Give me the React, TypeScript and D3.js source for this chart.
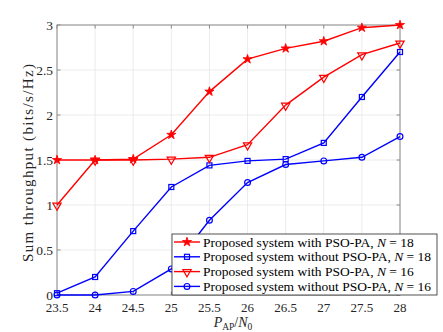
import React from 'react';
import * as d3 from 'd3';

const xValues = [23.5, 24, 24.5, 25, 25.5, 26, 26.5, 27, 27.5, 28];
const withPso18 = [1.5, 1.5, 1.51, 1.78, 2.26, 2.62, 2.74, 2.82, 2.97, 3.0];
const withoutPso18 = [0.02, 0.2, 0.71, 1.2, 1.44, 1.49, 1.51, 1.69, 2.2, 2.7];
const withPso16 = [1.0, 1.5, 1.5, 1.51, 1.53, 1.67, 2.11, 2.42, 2.67, 2.8];
const withoutPso16 = [0.0, 0.0, 0.04, 0.29, 0.83, 1.25, 1.45, 1.49, 1.53, 1.76];
const xTicks = [23.5, 24, 24.5, 25, 25.5, 26, 26.5, 27, 27.5, 28];
const yTicks = [0, 0.5, 1, 1.5, 2, 2.5, 3];
const legendLabels = [
  'Proposed system with PSO-PA, ',
  'Proposed system without PSO-PA, ',
  'Proposed system with PSO-PA, ',
  'Proposed system without PSO-PA, ',
];
const legendN = ['18', '18', '16', '16'];

const RED = '#ff0000';
const BLUE = '#0000ff';
const FONT = '"Liberation Serif", "DejaVu Serif", serif';

const series = [
  { values: withPso18, color: RED, marker: 'star' },
  { values: withoutPso18, color: BLUE, marker: 'square' },
  { values: withPso16, color: RED, marker: 'tri' },
  { values: withoutPso16, color: BLUE, marker: 'circle' },
];

const Marker = ({ type, x, y, color }: { type: string; x: number; y: number; color: string }) => {
  if (type === 'star') {
    const p = d3.symbol().type(d3.symbolStar).size(26)();
    return <path d={p || ''} transform={`translate(${x},${y})`} fill={color} stroke={color} strokeWidth={0.8} />;
  }
  if (type === 'square') {
    return <rect x={x - 2.5} y={y - 2.5} width={5} height={5} fill="none" stroke={color} strokeWidth={1.2} />;
  }
  if (type === 'tri') {
    const p = d3.symbol().type(d3.symbolTriangle).size(30)();
    return <path d={p || ''} transform={`translate(${x},${y + 0.5}) rotate(180)`} fill="none" stroke={color} strokeWidth={1.2} />;
  }
  return <circle cx={x} cy={y} r={2.9} fill="none" stroke={color} strokeWidth={1.2} />;
};

export default function App() {
  const width = 443;
  const height = 332;
  const m = { left: 57, right: 400, top: 25, bottom: 295 };

  const x = d3.scaleLinear().domain([23.5, 28]).range([m.left, m.right]);
  const y = d3.scaleLinear().domain([0, 3]).range([m.bottom, m.top]);

  const line = d3.line<number>()
    .x((_, i) => x(xValues[i]))
    .y(d => y(d));

  const legend = { x: 172, y: 234, w: 265, h: 61 };
  const rowH = 14.8;

  return (
    <svg width={width} height={height} style={{ position: 'absolute', left: 0, top: 0 }} fontFamily={FONT}>
      <rect x={0} y={0} width={width} height={height} fill="#fff" />
      {/* grid */}
      {xTicks.map(t => (
        <line key={'gx' + t} x1={x(t)} x2={x(t)} y1={m.top} y2={m.bottom} stroke="#e6e6e6" strokeWidth={0.8} />
      ))}
      {yTicks.map(t => (
        <line key={'gy' + t} x1={m.left} x2={m.right} y1={y(t)} y2={y(t)} stroke="#e6e6e6" strokeWidth={0.8} />
      ))}
      {/* frame */}
      <rect x={m.left} y={m.top} width={m.right - m.left} height={m.bottom - m.top} fill="none" stroke="#8c8c8c" strokeWidth={1} />
      {/* ticks */}
      {xTicks.map(t => (
        <g key={'tx' + t}>
          <line x1={x(t)} x2={x(t)} y1={m.bottom} y2={m.bottom - 3.5} stroke="#8c8c8c" />
          <line x1={x(t)} x2={x(t)} y1={m.top} y2={m.top + 3.5} stroke="#8c8c8c" />
          <text x={x(t)} y={m.bottom + 17} textAnchor="middle" fontSize={13} fill="#262626">{t}</text>
        </g>
      ))}
      {yTicks.map(t => (
        <g key={'ty' + t}>
          <line x1={m.left} x2={m.left + 3.5} y1={y(t)} y2={y(t)} stroke="#8c8c8c" />
          <line x1={m.right} x2={m.right - 3.5} y1={y(t)} y2={y(t)} stroke="#8c8c8c" />
          <text x={m.left - 4} y={y(t) + 4.5} textAnchor="end" fontSize={13.5} fill="#262626">{t}</text>
        </g>
      ))}
      {/* series */}
      {series.map((s, si) => (
        <g key={'s' + si}>
          <path d={line(s.values) || ''} fill="none" stroke={s.color} strokeWidth={1.4} />
          {s.values.map((v, i) => (
            <Marker key={i} type={s.marker} x={x(xValues[i])} y={y(v)} color={s.color} />
          ))}
        </g>
      ))}
      {/* axis labels */}
      <text transform={`translate(33,163) rotate(-90)`} textAnchor="middle" fontSize={15} fill="#262626"
        textLength={198} lengthAdjust="spacing">
        Sum throughput (bits/s/Hz)
      </text>
      <text x={233} y={327} textAnchor="middle" fontSize={14} fill="#262626">
        <tspan fontStyle="italic">P</tspan>
        <tspan fontSize={9.5} dy={2.5}>AP</tspan>
        <tspan dy={-2.5}>/</tspan>
        <tspan fontStyle="italic">N</tspan>
        <tspan fontSize={9.5} dy={2.5}>0</tspan>
      </text>
      {/* legend */}
      <rect x={legend.x} y={legend.y} width={legend.w} height={legend.h} fill="#fff" stroke="#262626" strokeWidth={0.8} />
      {series.map((s, i) => {
        const cy = legend.y + 8 + i * rowH;
        return (
          <g key={'l' + i}>
            <line x1={legend.x + 2} x2={legend.x + 28} y1={cy} y2={cy} stroke={s.color} strokeWidth={1.4} />
            <Marker type={s.marker} x={legend.x + 15} y={cy} color={s.color} />
            <text x={legend.x + 31} y={cy + 4.5} fontSize={13.5} fill="#000">
              {legendLabels[i]}
              <tspan fontStyle="italic">N</tspan>
              {' = ' + legendN[i]}
            </text>
          </g>
        );
      })}
    </svg>
  );
}
